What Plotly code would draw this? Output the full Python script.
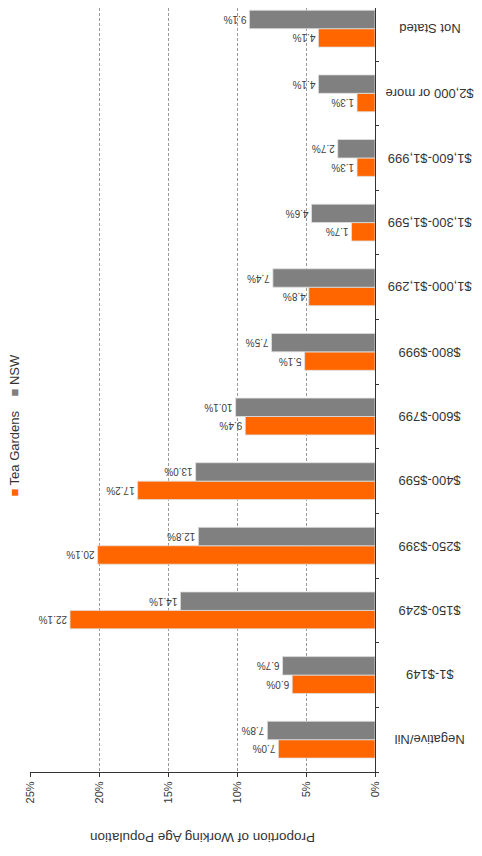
import plotly.graph_objects as go

# weekly income bands, bottom to top
categories = ["Negative/Nil", "$1-$149", "$150-$249", "$250-$399", "$400-$599",
              "$600-$799", "$800-$999", "$1,000-$1,299", "$1,300-$1,599",
              "$1,600-$1,999", "$2,000 or more", "Not Stated"]
tea_gardens = [7.0, 6.0, 22.1, 20.1, 17.2, 9.4, 5.1, 4.8, 1.7, 1.3, 1.3, 4.1]
nsw = [7.8, 6.7, 14.1, 12.8, 13.0, 10.1, 7.5, 7.4, 4.6, 2.7, 4.1, 9.1]
x_ticks = [0, 5, 10, 15, 20, 25]

FONT = "Liberation Sans"
ORANGE = "#ff6600"
GREY = "#808080"

fig = go.Figure()
for name, vals, col in [("Tea Gardens", tea_gardens, ORANGE), ("NSW", nsw, GREY)]:
    fig.add_trace(go.Bar(
        y=categories, x=vals, name=name, orientation="h",
        marker=dict(color=col, line=dict(color="#e0e0e0", width=0.8)),
        text=[f"{v:.1f}%" for v in vals],
        textposition="outside", textangle=180,
        textfont=dict(family=FONT, size=10, color="#404040"),
        cliponaxis=False,
    ))

fig.update_layout(
    width=482, height=856,
    barmode="group", bargap=0.43, bargroupgap=0,
    plot_bgcolor="white", paper_bgcolor="white",
    showlegend=False,
    margin=dict(l=22, r=115, t=0, b=92),
    font=dict(family=FONT, color="#333333"),
)
fig.update_xaxes(
    range=[25, 0], tickvals=x_ticks, ticktext=[f"{t}%" for t in x_ticks],
    tickangle=-90, tickfont=dict(size=11, color="#333333"),
    ticks="outside", ticklen=4, tickcolor="#333333",
    showgrid=True, gridcolor="#999999", griddash="3px,2px", gridwidth=1,
    showline=True, linecolor="#333333", linewidth=1, zeroline=False,
    automargin=False,
)
# top category runs a little past the top edge, as in the source
fig.update_yaxes(
    categoryorder="array", categoryarray=categories, range=[-0.5, 11.32],
    side="right", showticklabels=False,
    ticks="outside", tickson="boundaries", ticklen=3, tickcolor="#333333",
    showline=True, linecolor="#333333", linewidth=1, showgrid=False,
    automargin=False,
)

# category labels, upside down like the source
for c in categories:
    fig.add_annotation(
        text=c, textangle=180, xref="paper", x=1.159, xanchor="center",
        yref="y", y=c, yanchor="middle",
        showarrow=False, font=dict(family=FONT, size=13, color="#333333"),
    )

# axis title
fig.add_annotation(
    text="Proportion of Working Age Population", textangle=180,
    xref="paper", yref="paper", x=0.5, y=-0.085, yanchor="middle",
    showarrow=False, font=dict(family=FONT, size=13.5, color="#333333"),
)
# legend, turned sideways
fig.add_annotation(
    text=f"<span style='color:{ORANGE}'>■</span> Tea Gardens    "
         f"<span style='color:{GREY}'>■</span> NSW",
    textangle=-90, xref="paper", xanchor="center",
    x=-0.045, yref="paper", y=0.454, showarrow=False,
    font=dict(family=FONT, size=13, color="#333333"),
)

fig.write_html("out.html")
